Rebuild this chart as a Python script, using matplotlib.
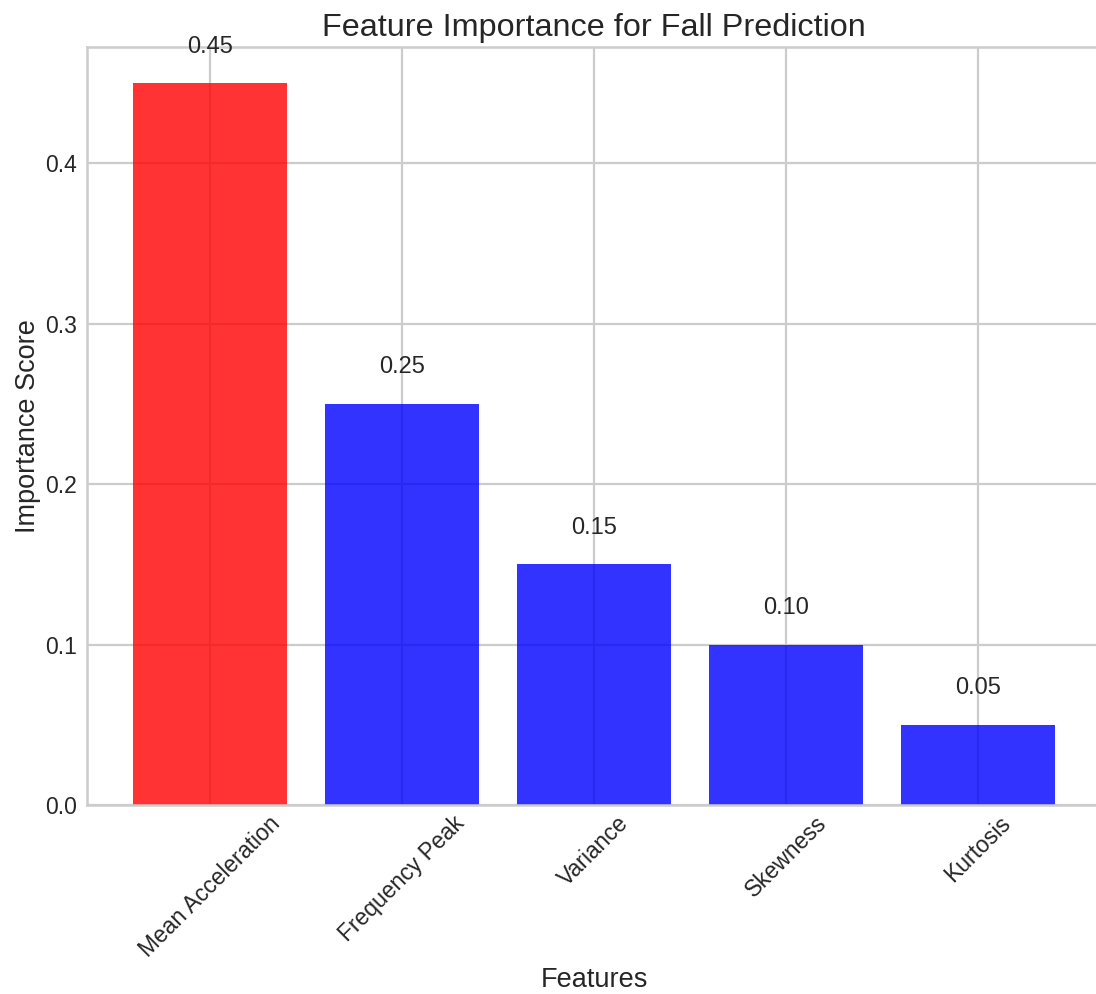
import numpy as np
import matplotlib.pyplot as plt

# feature importance scores
features = ['Mean Acceleration', 'Frequency Peak', 'Variance', 'Skewness', 'Kurtosis']
importance = [0.45, 0.25, 0.15, 0.10, 0.05]
colors = ['red', 'blue', 'blue', 'blue', 'blue']

plt.style.use('seaborn-v0_8-whitegrid')
plt.rcParams['font.family'] = ['Liberation Sans', 'DejaVu Sans']

W, H = 1096, 994
fig = plt.figure(figsize=(W / 100, H / 100), dpi=100)
ax = fig.add_axes([87 / W, (H - 805) / H, (1101 - 87) / W, (805 - 47) / H])

bars = ax.bar(features, importance, color=colors, alpha=0.8)

# value labels above each bar
for bar, val in zip(bars, importance):
    ax.text(bar.get_x() + bar.get_width() / 2, val + 0.019, f'{val:.2f}',
            ha='center', va='baseline', fontsize=17, color='0.15')

ax.set_title('Feature Importance for Fall Prediction', fontsize=23.3, color='0.15', pad=8)
ax.set_xlabel('Features', fontsize=19.5, color='0.15', labelpad=4)
ax.set_ylabel('Importance Score', fontsize=19.5, color='0.15', labelpad=3)
ax.tick_params(axis='y', labelsize=16.5, colors='0.15', pad=7)
ax.tick_params(axis='x', labelsize=16.5, colors='0.15', pad=5)
plt.setp(ax.get_xticklabels(), rotation=45)
ax.grid(True, color='0.8', linewidth=1.6)
for s in ax.spines.values():
    s.set_color('0.8')
    s.set_linewidth(1.8)

fig.savefig('out.png', dpi=100)
